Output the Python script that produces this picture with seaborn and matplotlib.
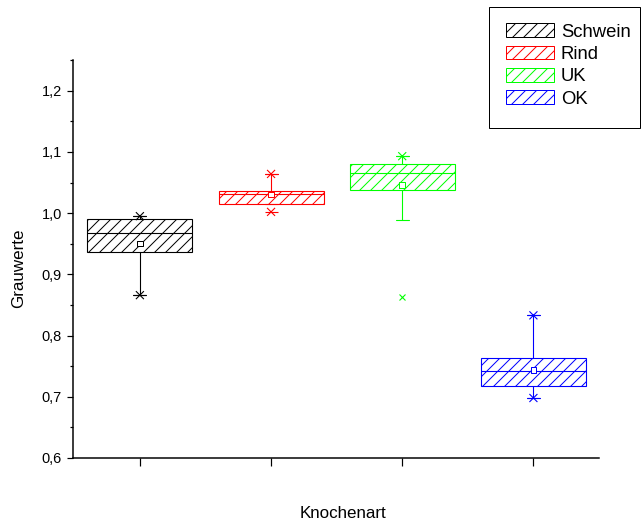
import numpy as np
import pandas as pd
import matplotlib
matplotlib.use("Agg")
import matplotlib.pyplot as plt
import matplotlib.patches as mpatches
from matplotlib.ticker import MultipleLocator, FuncFormatter
import seaborn as sns

# Box statistics of the grey values per bone type
groups = ["Schwein", "Rind", "UK", "OK"]
colors = ["#000000", "#FF0000", "#00FF00", "#0000FF"]
q1 = [0.936, 1.015, 1.038, 0.717]
median = [0.967, 1.031, 1.066, 0.742]
q3 = [0.990, 1.036, 1.080, 0.763]
mean = [0.950, 1.030, 1.046, 0.744]
whisker_low = [0.866, 1.015, 0.989, 0.698]
whisker_high = [0.995, 1.064, 1.093, 0.833]
extreme_low = [0.866, 1.002, np.nan, 0.698]
extreme_high = [0.995, 1.064, 1.093, 0.833]
outliers = [[], [], [0.863], []]

DPI = 132
HATCH = "////"


def px(v):
    """Convert a pixel size into points for this figure's resolution."""
    return v * 72 / DPI


sns.set_theme(style="ticks")
plt.rcParams["font.family"] = ["Liberation Sans", "DejaVu Sans"]
plt.rcParams["hatch.linewidth"] = px(1)

W, H = 643, 524
fig = plt.figure(figsize=(W / DPI, H / DPI), dpi=DPI)
fig.patch.set_facecolor("white")
ax = fig.add_axes([73 / W, 1 - 458 / H, (599 - 73) / W, (458 - 60) / H])
ax.set_facecolor("white")

positions = np.arange(1, len(groups) + 1)
lw = px(1.1)

# Hatched boxes with whiskers
for pos, c, a, m, b, lo, hi in zip(positions, colors, q1, median, q3,
                                   whisker_low, whisker_high):
    stats = [dict(med=m, q1=a, q3=b, whislo=lo, whishi=hi, fliers=[])]
    ax.bxp(stats, positions=[pos], widths=0.8, capwidths=0.1,
           patch_artist=True, showfliers=False, manage_ticks=False,
           boxprops=dict(facecolor="white", edgecolor=c, hatch=HATCH,
                         linewidth=lw),
           medianprops=dict(color=c, linewidth=lw),
           whiskerprops=dict(color=c, linewidth=lw),
           capprops=dict(color=c, linewidth=lw))

# Extreme values (x with a bar), outliers (x) and means (open squares)
ext_rows, out_rows = [], []
for pos, g, lo, hi, outs in zip(positions, groups, extreme_low,
                                extreme_high, outliers):
    for v in (lo, hi):
        if not np.isnan(v):
            ext_rows.append((pos, v, g))
    for v in outs:
        out_rows.append((pos, v, g))
ext_df = pd.DataFrame(ext_rows, columns=["Knochenart", "Grauwerte", "Gruppe"])
out_df = pd.DataFrame(out_rows, columns=["Knochenart", "Grauwerte", "Gruppe"])
mean_df = pd.DataFrame({"Knochenart": positions, "Grauwerte": mean,
                        "Gruppe": groups})
palette = dict(zip(groups, colors))

for df, marker, size in ((ext_df, "x", px(8) ** 2),
                         (ext_df, "_", px(13) ** 2),
                         (out_df, "x", px(6) ** 2)):
    sns.scatterplot(data=df, x="Knochenart", y="Grauwerte", hue="Gruppe",
                    palette=palette, marker=marker, s=size, edgecolor=None,
                    linewidth=lw, legend=False, ax=ax, zorder=6)
    coll = ax.collections[-1]
    coll.set_edgecolors([palette[g] for g in df["Gruppe"]])
    coll.set_linewidths(lw)

sns.scatterplot(data=mean_df, x="Knochenart", y="Grauwerte", hue="Gruppe",
                palette=palette, marker="s", s=px(5.5) ** 2, legend=False,
                ax=ax, zorder=7)
coll = ax.collections[-1]
coll.set_facecolors("white")
coll.set_edgecolors(colors)
coll.set_linewidths(px(1))

# Axes
ax.set_xlim(0.49, 4.5)
ax.set_ylim(0.6, 1.2501)
ax.set_xticks(positions)
ax.set_xticklabels([])
ax.yaxis.set_major_locator(MultipleLocator(0.1))
ax.yaxis.set_minor_locator(MultipleLocator(0.05))
ax.yaxis.set_major_formatter(FuncFormatter(lambda v, p: f"{v:.1f}".replace(".", ",")))
ax.tick_params(axis="y", which="major", length=px(6), width=px(1.2),
               pad=px(5), labelsize=px(14.5), color="black", labelcolor="black")
ax.tick_params(axis="y", which="minor", length=px(3.5), width=px(1.2),
               color="black")
ax.tick_params(axis="x", which="major", length=px(8), width=px(1.2),
               color="black")
for side in ("top", "right"):
    ax.spines[side].set_visible(False)
for side in ("left", "bottom"):
    ax.spines[side].set_color("black")
    ax.spines[side].set_linewidth(px(1.5))
ax.grid(False)

ax.set_xlabel("Knochenart", fontsize=px(17), color="black")
ax.set_ylabel("Grauwerte", fontsize=px(17), color="black")
ax.xaxis.label.set(va="center", ha="center")
ax.yaxis.label.set(va="center", ha="center")
ax.xaxis.set_label_coords((343 - 73) / 526, -(513 - 458) / 398)
ax.yaxis.set_label_coords((19 - 73) / 526, 1 - (268 - 60) / 398)

# Legend: entries without their own frame, boxed by a separate rectangle
handles = [mpatches.Patch(facecolor="white", edgecolor=c, hatch=HATCH,
                          linewidth=px(1), label=g)
           for g, c in zip(groups, colors)]
F = 18.5
leg = fig.legend(handles=handles, loc="upper left",
                 bbox_to_anchor=(506 / W, 1 - 23.5 / H),
                 borderaxespad=0, borderpad=0, fontsize=px(F), frameon=False,
                 handlelength=48 / F, handleheight=14 / F,
                 handletextpad=7 / F, labelspacing=0.27)
for t in leg.get_texts():
    t.set_color("black")
fig.add_artist(mpatches.Rectangle((489 / W, 1 - 128 / H), (640 - 489) / W,
                                  (128 - 7) / H, transform=fig.transFigure,
                                  facecolor="none", edgecolor="black",
                                  linewidth=px(1)))

fig.savefig("out.png", dpi=DPI, facecolor="white")
